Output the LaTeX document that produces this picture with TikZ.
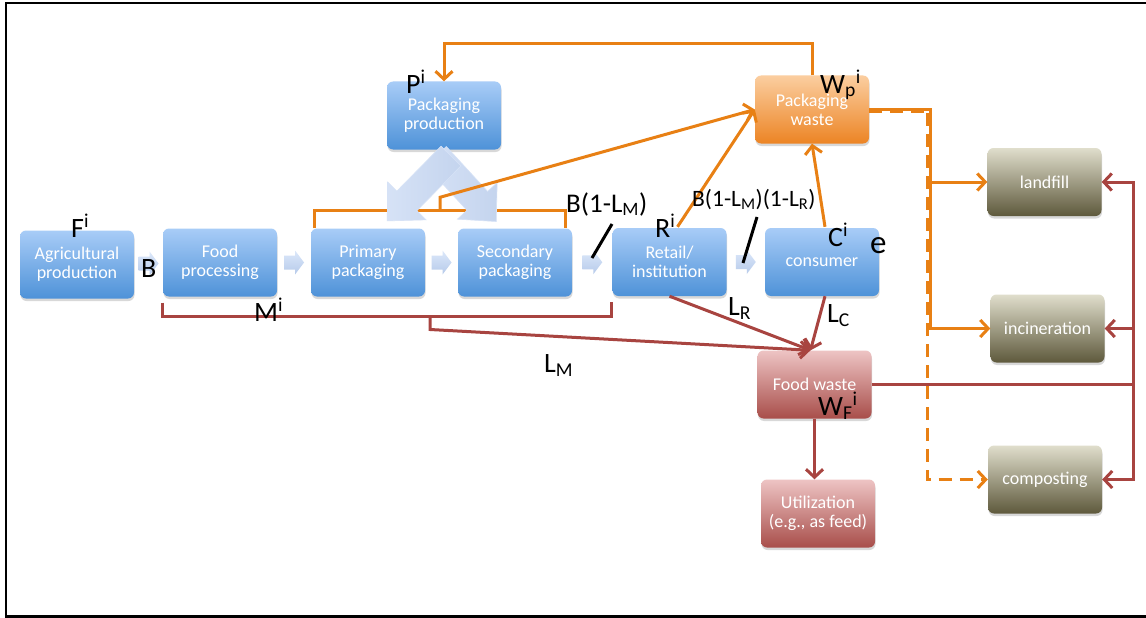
\documentclass[tikz,border=0pt]{standalone}
\usepackage{fontspec}
\setmainfont{Carlito}
\usetikzlibrary{arrows.meta,calc,shadows}
\definecolor{btop}{RGB}{168,204,247}
\definecolor{bbot}{RGB}{78,146,216}
\definecolor{otop}{RGB}{251,206,160}
\definecolor{obot}{RGB}{236,132,36}
\definecolor{rtop}{RGB}{238,196,196}
\definecolor{rbot}{RGB}{168,78,74}
\definecolor{gtop}{RGB}{224,222,204}
\definecolor{gbot}{RGB}{94,89,60}
\definecolor{orc}{RGB}{232,128,20}
\definecolor{rdc}{RGB}{168,68,64}
\definecolor{arrb}{RGB}{196,212,238}
\definecolor{arrl}{RGB}{214,226,246}
\definecolor{satop}{RGB}{220,232,250}
\definecolor{sabot}{RGB}{182,202,234}
\begin{document}
\begin{tikzpicture}[x=1pt,y=-1pt,
  nbox/.style={rounded corners=6pt, minimum width=114pt, minimum height=68pt,
    inner sep=2pt, align=center, text=white, font=\fontsize{18}{19}\selectfont,
    drop shadow={shadow xshift=0.5pt,shadow yshift=-2.5pt,opacity=0.3}},
  bluebox/.style={nbox, top color=btop, bottom color=bbot},
  orbox/.style={nbox, top color=otop, bottom color=obot},
  rdbox/.style={nbox, top color=rtop, bottom color=rbot},
  olbox/.style={nbox, top color=gtop, bottom color=gbot},
  orl/.style={draw=orc, line width=3pt},
  ora/.style={orl, -{Straight Barb[length=8pt,width=17pt]}},
  rdl/.style={draw=rdc, line width=3pt},
  rda/.style={rdl, -{Straight Barb[length=8pt,width=17pt]}},
  tick/.style={draw=black, line width=3pt},
  lab/.style={font=\fontsize{28}{29}\selectfont, inner sep=0pt, anchor=base west},
  barr/.style={left color=arrl, right color=arrb, draw=arrl, line width=0.6pt},
  sarr/.style={top color=satop, bottom color=sabot}
]
\useasboundingbox (0,0) rectangle (1146,618);
\fill[white] (0,0) rectangle (1146,618);
\draw[line width=2.5pt] (1146,3) -- (6,3) -- (6,616.5) -- (1146,616.5);

% boxes
\node[bluebox] (agri) at (77,264.5) {Agricultural\\production};
\node[bluebox] (fp) at (220,262.5) {Food\\processing};
\node[bluebox] (pp) at (368,262.5) {Primary\\packaging};
\node[bluebox] (sp) at (515,262.5) {Secondary\\packaging};
\node[bluebox] (ret) at (669.5,262) {Retail/\\institution};
\node[bluebox] (con) at (822,262) {consumer};
\node[bluebox] (pprod) at (444,115.5) {Packaging\\production};
\node[orbox] (pw) at (812,109.5) {Packaging\\waste};
\node[olbox] (land) at (1044.5,182) {landfill};
\node[olbox] (inc) at (1047.5,328.5) {incineration};
\node[olbox] (comp) at (1045,479.5) {composting};
\node[rdbox] (fw) at (814.5,384.5) {Food waste};
\node[rdbox] (util) at (818,513.5) {Utilization\\(e.g., as feed)};

% small block arrows between the chain boxes
\newcommand\smarr[1]{\shade[sarr] ($#1+(-10,-7)$) -- ++(11,0) -- ++(0,-5) -- ++(9,12) -- ++(-9,12) -- ++(0,-5) -- ++(-11,0) -- cycle;}
\smarr{(agri.east)!0.5!(fp.west)}
\smarr{(fp.east)!0.5!(pp.west)}
\smarr{(pp.east)!0.5!(sp.west)}
\smarr{(sp.east)!0.5!(ret.west)}
\smarr{(ret.east)!0.5!(con.west)}

% orange bracket over primary/secondary packaging
\coordinate (obl) at ($(pp.north west)+(4,0)$);
\coordinate (obr) at ($(sp.north east)+(-7,0)$);
\coordinate (obm) at ($(obl)!0.5!(obr)+(0,-18)$);
\draw[orl] (obl) -- ++(0,-18) -| (obr);

% big block arrows from packaging production
\begin{scope}[shift={(436,156)}, rotate=-47.4]
\path[barr] (0,-14) -- (61,-14) -- (61,-27) -- (89,0) -- (61,27) -- (61,14) -- (0,14) -- cycle;
\end{scope}
\begin{scope}[shift={(451,156)}, rotate=-134.5]
\path[barr] (0,-14) -- (63,-14) -- (63,-27) -- (91,0) -- (63,27) -- (63,14) -- (0,14) -- cycle;
\end{scope}

% orange connectors
\draw[ora] (obm) -- ++(0,-13) -- (pw.west);
\draw[ora] ($(ret.north)+(8,-1)$) -- (pw.west);
\draw[ora] ($(con.north)+(3,-1)$) -- (pw.south);
\draw[ora] (pw.north) -- ++(0,-32) -| (pprod.north);
\coordinate (oj) at ($(pw.east)+(61,0)$);
\draw[ora] (pw.east) -- (oj) |- (land.west);
\draw[ora] (oj) |- (inc.west);
\draw[ora, dash pattern=on 13pt off 8pt] ($(pw.east)+(0,1.5)$) -| ($(oj)+(-3,0)$) |- (comp.west);

% red connectors
\coordinate (rbl) at ($(fp.south west)+(0,6)$);
\coordinate (rbr) at ($(ret.south west)+(-1,6)$);
\draw[rdl] (rbl) -- ++(0,14) -| (rbr);
\coordinate (rbm) at (430,317.5);
\coordinate (fwin) at ($(fw.north)+(-4,0)$);
\draw[rda] (rbm) -- ++(0,12) -- (fwin);
\draw[rda] (ret.south) -- (fwin);
\draw[rda] ($(con.south)+(3,0)$) -- (fwin);
\draw[rda] (fw.south) -- (fw.south |- util.north);
\coordinate (rj) at ($(fw.east)+(262,0)$);
\draw[rdl] (fw.east) -- (rj);
\draw[rda] (rj) |- (land.east);
\draw[rda] (rj) |- (comp.east);
\draw[rda] (rj |- inc.east) -- (inc.east);

% black tick marks
\coordinate (t1a) at (612,224); \coordinate (t1b) at (592,258);
\coordinate (t2a) at (757,217); \coordinate (t2b) at (743,263);
\draw[tick] (t1a) -- (t1b);
\draw[tick] (t2a) -- (t2b);

% labels
\node[lab] (lF) at (71,237) {F\textsuperscript{i}};
\node[lab] (lB) at (141,277) {B};
\node[lab] (lM) at (254,321) {M\textsuperscript{i}};
\node[lab] (lP) at (406,93) {P\textsuperscript{i}};
\node[lab, font=\fontsize{27}{28}\selectfont] (lB1) at (566,212) {B(1-L\textsubscript{M})};
\node[lab] (lR) at (655,237) {R\textsuperscript{i}};
\node[lab, font=\fontsize{23.5}{25}\selectfont] (lB2) at (692,206) {B(1-L\textsubscript{M})(1-L\textsubscript{R})};
\node[lab] (lC) at (828,246) {C\textsuperscript{i}};
\node[lab, font=\fontsize{33}{34}\selectfont] (le) at (870,253) {e};
\node[lab] (lWp) at (820,93) {W\textsubscript{p}\textsuperscript{i}};
\node[lab] (lWF) at (818,415) {W\textsubscript{F}\textsuperscript{i}};
\node[lab] (lLR) at (728,315) {L\textsubscript{R}};
\node[lab] (lLC) at (827,322) {L\textsubscript{C}};
\node[lab] (lLM) at (544,372) {L\textsubscript{M}};
\end{tikzpicture}
\end{document}
